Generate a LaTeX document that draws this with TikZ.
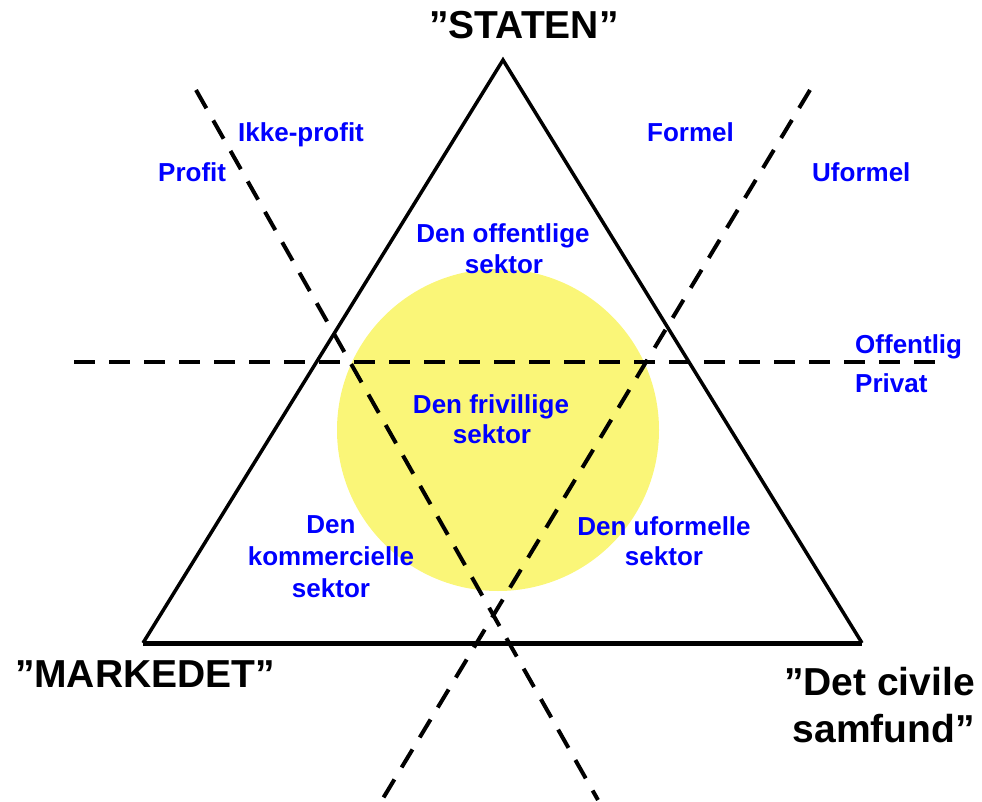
\documentclass[tikz,border=0pt]{standalone}
\usepackage{fontspec}
\setmainfont{Liberation Sans}
\definecolor{sunyellow}{RGB}{250,246,120}
\definecolor{lblue}{RGB}{0,0,255}
\begin{document}
\begin{tikzpicture}[x=1pt,y=-1pt,
  pole/.style={font=\fontsize{39}{46}\selectfont\bfseries, text=black, inner sep=0pt, anchor=base},
  lbl/.style={font=\fontsize{26}{31}\selectfont\bfseries, text=lblue, inner sep=0pt, anchor=base},
  divider/.style={draw=black, line width=4pt, dash pattern=on 21pt off 14pt},
  side/.style={draw=black, line width=3.5pt}]
\useasboundingbox (0,0) rectangle (982,802);
% yellow circle
\fill[sunyellow] (498,430) circle[radius=161];
% labels
\node[pole] (staten) at (524,39) {”STATEN”};
\node[pole] (marked) at (145,687) {”MARKEDET”};
\node[pole, anchor=base east] (civA) at (975,695) {”Det civile};
\node[pole, anchor=base east] (civB) at (975,742) {samfund”};
\node[lbl, anchor=base west] (ikke) at (238,142) {Ikke-profit};
\node[lbl, anchor=base west] (profit) at (158,182) {Profit};
\node[lbl, anchor=base west] (formel) at (647,142) {Formel};
\node[lbl, anchor=base west] (uformel) at (812,182) {Uformel};
\node[lbl, anchor=base west] (offl) at (855,353) {Offentlig};
\node[lbl, anchor=base west] (priv) at (855,392) {Privat};
\node[lbl] (offA) at (503,243) {Den offentlige};
\node[lbl] (offB) at (504,273) {sektor};
\node[lbl] (friA) at (491,413) {Den frivillige};
\node[lbl] (friB) at (492,443) {sektor};
\node[lbl] (komA) at (331,533) {Den};
\node[lbl] (komB) at (331,565) {kommercielle};
\node[lbl] (komC) at (331,597) {sektor};
\node[lbl] (ufoA) at (664,535) {Den uformelle};
\node[lbl] (ufoB) at (664,565) {sektor};
% triangle
\coordinate (apex) at (503,60);
\coordinate (bl) at (143,643);
\coordinate (br) at (862,643);
\draw[side, line join=miter] (bl) -- (apex) -- (br);
\draw[black, line width=5pt] (bl) -- (br);
% dashed dividers
\coordinate (l1) at (196,90);
\coordinate (l2) at (598,800);
\coordinate (r1) at (810,90);
\coordinate (r2) at (382,800);
\coordinate (h1) at (74,362);
\coordinate (h2) at (942,362);
\draw[divider] (l1) -- (l2);
\draw[divider] (r1) -- (r2);
\draw[divider] (h1) -- (h2);
\end{tikzpicture}
\end{document}
